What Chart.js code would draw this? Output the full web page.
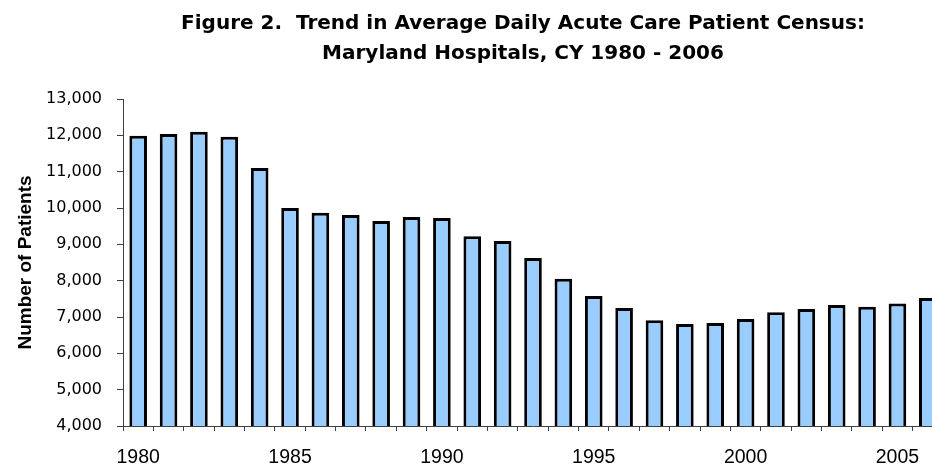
<!DOCTYPE html>
<html lang="en">
<head>
  <meta charset="UTF-8" />
  <title>Maryland Hospitals Census</title>
  <script src="https://cdn.jsdelivr.net/npm/chart.js"></script>
  <style>
    body { margin: 0; background: #fff; overflow: hidden; }
    .wrap { width: 950px; height: 466px; }
  </style>
</head>
<body>
  <div class="wrap"><canvas id="censusChart"></canvas></div>

  <script>
    const years = [1980, 1981, 1982, 1983, 1984, 1985, 1986, 1987, 1988, 1989,
                   1990, 1991, 1992, 1993, 1994, 1995, 1996, 1997, 1998, 1999,
                   2000, 2001, 2002, 2003, 2004, 2005, 2006];
    const census = [11990, 12040, 12100, 11960, 11100, 10000, 9870, 9810, 9640, 9750,
                    9725, 9220, 9090, 8625, 8055, 7580, 7250, 6910, 6810, 6835,
                    6945, 7130, 7220, 7330, 7285, 7375, 7525];
    const titleLines = [
      "Figure 2.  Trend in Average Daily Acute Care Patient Census:",
      "Maryland Hospitals, CY 1980 - 2006"
    ];
    const yTitle = "Number of Patients";

    // title drawn by hand so it can sit off-centre like the original
    const figureTitle = {
      id: "figureTitle",
      afterDraw(chart) {
        const ctx = chart.ctx;
        ctx.save();
        ctx.font = 'bold 20px "DejaVu Sans"';
        ctx.fillStyle = "#000";
        ctx.textAlign = "center";
        ctx.textBaseline = "middle";
        titleLines.forEach((line, i) => ctx.fillText(line, 523, 24 + i * 30));
        ctx.restore();
      }
    };

    new Chart(document.getElementById("censusChart"), {
      type: "bar",
      data: {
        labels: years,
        datasets: [{
          label: "Census",
          data: census,
          backgroundColor: "#99ccff",
          borderColor: "#000",
          borderWidth: 3,
          borderSkipped: false,
          barPercentage: 0.58,
          categoryPercentage: 1
        }]
      },
      options: {
        responsive: true,
        maintainAspectRatio: false,
        animation: false,
        layout: { padding: { top: 99, right: 7, left: 0, bottom: 0 } },
        plugins: {
          legend: { display: false },
          tooltip: { enabled: false }
        },
        scales: {
          x: {
            afterFit: (scale) => { scale.height = 40; },
            border: { color: "#404040", width: 1 },
            grid: { offset: true, drawOnChartArea: false, tickLength: 5, color: "#404040" },
            ticks: {
              autoSkip: false,
              maxRotation: 0,
              padding: 15,
              color: "#000",
              font: { family: "Arial", size: 19.5 },
              callback: function (v) {
                const y = years[v];
                return y % 5 === 0 ? String(y) : "";
              }
            }
          },
          y: {
            min: 4000,
            max: 13000,
            afterFit: (scale) => { scale.width = 123; },
            border: { color: "#404040", width: 1 },
            grid: { drawOnChartArea: false, tickLength: 6, color: "#404040" },
            ticks: {
              stepSize: 1000,
              padding: 15,
              color: "#000",
              font: { family: "DejaVu Sans", size: 16 },
              callback: (v) => v.toLocaleString("en-US")
            },
            title: {
              display: true,
              text: yTitle,
              color: "#000",
              padding: { top: 14, bottom: 0 },
              font: { family: "Arial", size: 19, weight: "bold" }
            }
          }
        }
      },
      plugins: [figureTitle]
    });
  </script>
</body>
</html>
